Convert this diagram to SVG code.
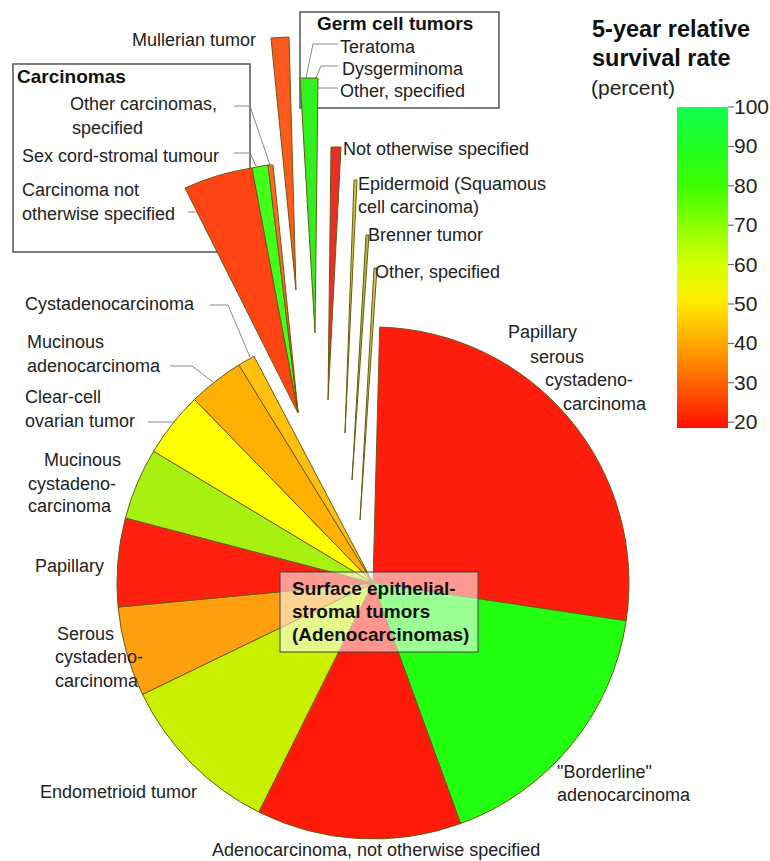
<svg xmlns="http://www.w3.org/2000/svg" width="770" height="861" viewBox="0 0 770 861">
<defs>
<linearGradient id="scale" x1="0" y1="0" x2="0" y2="1">
<stop offset="0" stop-color="#10ff50"/>
<stop offset="0.125" stop-color="#20ff20"/>
<stop offset="0.25" stop-color="#40ff00"/>
<stop offset="0.375" stop-color="#90ff00"/>
<stop offset="0.5" stop-color="#d8ff00"/>
<stop offset="0.6" stop-color="#ffee00"/>
<stop offset="0.75" stop-color="#ffa000"/>
<stop offset="0.875" stop-color="#ff5a00"/>
<stop offset="1" stop-color="#ff1000"/>
</linearGradient>
</defs>
<style>
text{font-family:"Liberation Sans",Arial,sans-serif;font-size:18px;fill:#222}
.b{font-weight:bold;font-size:19px;fill:#111}
.lg{font-size:21px}
.lt{font-weight:bold;font-size:23.5px;fill:#111}
.sl{stroke:#6a5a10;stroke-width:1;stroke-linejoin:round}
.ld{fill:none;stroke:#888;stroke-width:1}
.box{fill:#fff;stroke:#555;stroke-width:1.5}
.tick{stroke:#555;stroke-width:1}
</style>

<g id="carcinomas-box">
<rect class="box" x="13" y="64" width="237" height="188"/>
<text class="b" x="17" y="83">Carcinomas</text>
<text x="70" y="110">Other carcinomas,</text>
<text x="72" y="134">specified</text>
<text x="22" y="162">Sex cord-stromal tumour</text>
<text x="22" y="196">Carcinoma not</text>
<text x="22" y="220">otherwise specified</text>
</g>

<g id="germ-box">
<rect class="box" x="300" y="12" width="199" height="96"/>
<text class="b" x="317" y="30">Germ cell tumors</text>
<text x="340" y="53">Teratoma</text>
<text x="342" y="75">Dysgerminoma</text>
<text x="340" y="97">Other, specified</text>
</g>

<g id="connectors">
<polyline class="ld" points="210,305 228,305 250,357"/>
<polyline class="ld" points="170,366 192,366 213,382"/>
<polyline class="ld" points="148,422 174,422"/>
<polyline class="ld" points="234,106 250,106 270,165"/>
<polyline class="ld" points="234,153 250,153 256,166"/>
<polyline class="ld" points="188,212 196,212"/>
<polyline class="ld" points="338,44 313,44 306,78"/>
<polyline class="ld" points="338,66 321,66 316,78"/>
<polyline class="ld" points="318,88 338,88"/>
</g>

<g id="pie">
<path id="papillary-serous" class="sl" fill="#ff1e0e" d="M373,583 L379.7,327.1 A256,256 0 0 1 626.2,620.8 Z"/>
<path id="borderline" class="sl" fill="#22ff10" d="M373,583 L626.2,620.8 A256,256 0 0 1 460.6,823.6 Z"/>
<path id="adeno-nos" class="sl" fill="#ff1a0a" d="M373,583 L460.6,823.6 A256,256 0 0 1 258.8,812.1 Z"/>
<path id="endometrioid" class="sl" fill="#c8f000" d="M373,583 L258.8,812.1 A256,256 0 0 1 142.5,694.4 Z"/>
<path id="serous-cyst" class="sl" fill="#ffa010" d="M373,583 L142.5,694.4 A256,256 0 0 1 118.1,607.1 Z"/>
<path id="papillary" class="sl" fill="#ff2010" d="M373,583 L118.1,607.1 A256,256 0 0 1 125.4,518 Z"/>
<path id="mucinous-cyst" class="sl" fill="#a8f010" d="M373,583 L125.4,518 A256,256 0 0 1 153.6,451.2 Z"/>
<path id="clear-cell" class="sl" fill="#ffff00" d="M373,583 L153.6,451.2 A256,256 0 0 1 194.5,399.5 Z"/>
<path id="mucinous-adeno" class="sl" fill="#ffb000" d="M373,583 L194.5,399.5 A256,256 0 0 1 238.9,365 Z"/>
<path id="cystadeno" class="sl" fill="#ffc010" d="M373,583 L238.9,365 A256,256 0 0 1 254,356.3 Z"/>
</g>

<g id="exploded">
<path id="carcinoma-nos" class="sl" fill="#ff4414" d="M298,413 L185,188 A250,250 0 0 1 252,168 Z"/>
<path id="sex-cord" class="sl" fill="#44ff18" d="M298,412 L252,168 A250,250 0 0 1 268,165 Z"/>
<path id="other-carcinomas" class="sl" fill="#ff6a20" d="M298,412 L268,165 L273,165 Z"/>
<path id="mullerian" class="sl" fill="#ff5a1e" d="M296,290 L271,38 L289,37 Z"/>
<path id="germ-other" class="sl" fill="#30f020" d="M315,333 L300,78 L318,78 Z"/>
<path id="other-nos" class="sl" fill="#e8302a" d="M328,400 L331,147 L341,147 Z"/>
<path id="epidermoid" class="sl" fill="#d0c840" d="M345,433 L354,180 L357,180 Z"/>
<path id="brenner" class="sl" fill="#a8c040" d="M352,480 L366,235 L369,235 Z"/>
<path id="other-spec" class="sl" fill="#c8c860" d="M360,520 L374,268 L377,268 Z"/>
</g>

<g id="labels">
<text x="132" y="46">Mullerian tumor</text>
<text x="343" y="155">Not otherwise specified</text>
<text x="358" y="190">Epidermoid (Squamous</text>
<text x="358" y="213">cell carcinoma)</text>
<text x="368" y="241">Brenner tumor</text>
<text x="375" y="278">Other, specified</text>
<text x="508" y="338">Papillary</text>
<text x="530" y="363">serous</text>
<text x="545" y="386">cystadeno-</text>
<text x="563" y="410">carcinoma</text>
<text x="557" y="778">"Borderline"</text>
<text x="557" y="801">adenocarcinoma</text>
<text x="212" y="856">Adenocarcinoma, not otherwise specified</text>
<text x="40" y="798">Endometrioid tumor</text>
<text x="57" y="640">Serous</text>
<text x="55" y="663">cystadeno-</text>
<text x="55" y="687">carcinoma</text>
<text x="35" y="572">Papillary</text>
<text x="44" y="466">Mucinous</text>
<text x="28" y="490">cystadeno-</text>
<text x="28" y="512">carcinoma</text>
<text x="25" y="403">Clear-cell</text>
<text x="25" y="427">ovarian tumor</text>
<text x="27" y="348">Mucinous</text>
<text x="27" y="372">adenocarcinoma</text>
<text x="25" y="310">Cystadenocarcinoma</text>
</g>

<g id="center-label">
<rect x="280" y="572" width="198" height="80" fill="#fff" fill-opacity="0.55" stroke="#404040" stroke-width="1"/>
<text class="b" x="292" y="595">Surface epithelial-</text>
<text class="b" x="292" y="618">stromal tumors</text>
<text class="b" x="292" y="641">(Adenocarcinomas)</text>
</g>

<g id="legend">
<text class="lt" x="592" y="37">5-year relative</text>
<text class="lt" x="592" y="66">survival rate</text>
<text class="lg" x="591" y="95">(percent)</text>
<rect x="677" y="107" width="51" height="321" fill="url(#scale)"/>
<g class="tick">
<line x1="728" y1="107" x2="734" y2="107"/>
<line x1="728" y1="146.4" x2="734" y2="146.4"/>
<line x1="728" y1="185.8" x2="734" y2="185.8"/>
<line x1="728" y1="225.2" x2="734" y2="225.2"/>
<line x1="728" y1="264.6" x2="734" y2="264.6"/>
<line x1="728" y1="304" x2="734" y2="304"/>
<line x1="728" y1="343.4" x2="734" y2="343.4"/>
<line x1="728" y1="382.8" x2="734" y2="382.8"/>
<line x1="728" y1="422.2" x2="734" y2="422.2"/>
</g>
<text class="lg" x="734" y="114">100</text>
<text class="lg" x="734" y="153">90</text>
<text class="lg" x="734" y="193">80</text>
<text class="lg" x="734" y="232">70</text>
<text class="lg" x="734" y="272">60</text>
<text class="lg" x="734" y="311">50</text>
<text class="lg" x="734" y="350">40</text>
<text class="lg" x="734" y="390">30</text>
<text class="lg" x="734" y="429">20</text>
</g>
</svg>
